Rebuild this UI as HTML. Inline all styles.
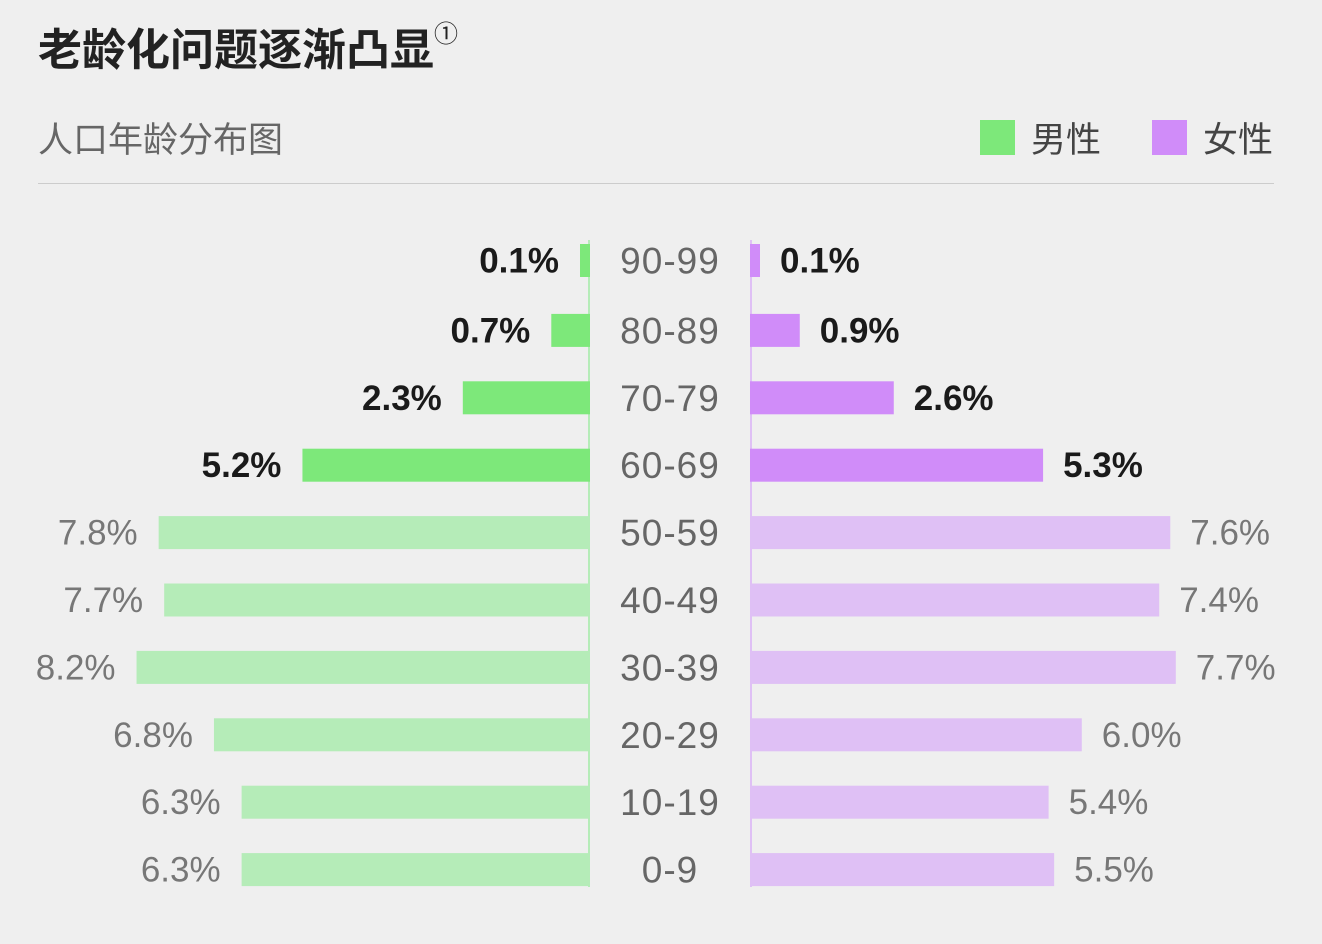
<!DOCTYPE html>
<html><head><meta charset="utf-8">
<style>
body{margin:0;background:#efefef;width:1322px;height:944px;overflow:hidden;font-family:"Liberation Sans","Noto Sans CJK SC",sans-serif;}
.t{position:absolute;white-space:nowrap;}
</style></head><body>
<div class="t" style="left:38px;top:14px;font-size:44px;font-weight:bold;color:#222;">老龄化问题逐渐凸显<span style="font-size:24px;vertical-align:top;font-weight:normal;">①</span></div>
<div class="t" style="left:38px;top:112px;font-size:35px;color:#666;">人口年龄分布图</div>
<div style="position:absolute;left:980px;top:120px;width:35px;height:35px;background:#7de87a;"></div>
<div class="t" style="left:1031px;top:112px;font-size:35px;color:#444;">男性</div>
<div style="position:absolute;left:1152px;top:120px;width:35px;height:35px;background:#d08cf9;"></div>
<div class="t" style="left:1203px;top:112px;font-size:35px;color:#444;">女性</div>
<div style="position:absolute;left:38px;top:183px;width:1236px;height:1px;background:#ccc;"></div>
<svg id="chart" width="1322" height="944" style="position:absolute;left:0;top:0;"></svg>
<script>
const categories=["90-99","80-89","70-79","60-69","50-59","40-49","30-39","20-29","10-19","0-9"];
const maleValues=[0.1,0.7,2.3,5.2,7.8,7.7,8.2,6.8,6.3,6.3];
const femaleValues=[0.1,0.9,2.6,5.3,7.6,7.4,7.7,6.0,5.4,5.5];
const highlight=[true,true,true,true,false,false,false,false,false,false];
const svg=document.getElementById('chart');
const NS='http://www.w3.org/2000/svg';
const maleAxis=590,femaleAxis=750,pxPer=55.3;
const mx=v=>maleAxis-Math.max(v*pxPer,10);
const fx=v=>femaleAxis+Math.max(v*pxPer,10);
const yc=i=>i===0?260.5:263+i*67.4;
const barH=33;
function mk(tag,attrs){const e=document.createElementNS(NS,tag);for(const k in attrs)e.setAttribute(k,attrs[k]);svg.appendChild(e);return e;}
let l=mk('line',{x1:589,x2:589,y1:240,y2:887,stroke:'#b5ecb8','stroke-width':2});


l=mk('line',{x1:751,x2:751,y1:240,y2:887,stroke:'#dfc0f5','stroke-width':2});


categories.forEach((c,i)=>{
  const y=yc(i),h=highlight[i];
  const mv=maleValues[i],fv=femaleValues[i];
  let r=mk('rect',{x:mx(mv),y:y-barH/2,width:maleAxis-mx(mv),height:barH,fill:h?'#7de87a':'#b5ecb8'});
  
  
  r=mk('rect',{x:femaleAxis,y:y-barH/2,width:fx(fv)-femaleAxis,height:barH,fill:h?'#d08cf9':'#dfc0f5'});
  
  
  let t=mk('text',{x:mx(mv)-21,y:y+12,'text-anchor':'end','font-size':35,fill:h?'#1a1a1a':'#777','font-weight':h?'bold':'normal'});
  t.textContent=mv.toFixed(1)+'%';
  
  
  t=mk('text',{x:fx(fv)+20,y:y+12,'text-anchor':'start','font-size':35,fill:h?'#1a1a1a':'#777','font-weight':h?'bold':'normal'});
  t.textContent=fv.toFixed(1)+'%';
  
  
  t=mk('text',{x:670,y:y+13,'text-anchor':'middle','font-size':37,'letter-spacing':1,fill:'#666'});
  t.textContent=c;
  
  
});
</script>
</body></html>
